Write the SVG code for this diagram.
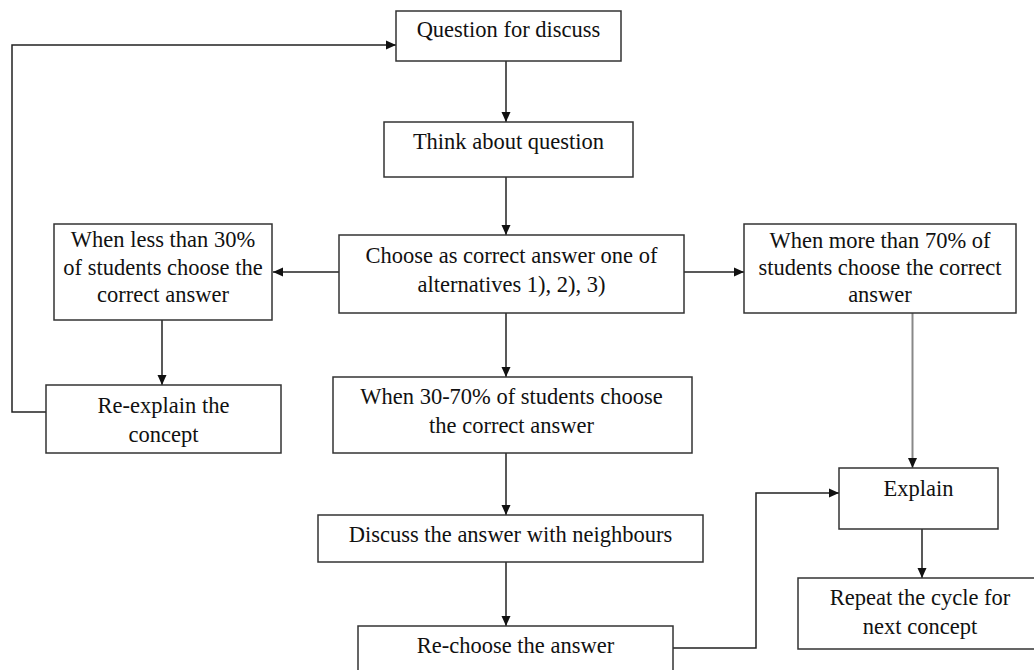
<svg xmlns="http://www.w3.org/2000/svg" width="1034" height="670" viewBox="0 0 1034 670">
<defs>
<marker id="ah" viewBox="0 0 10 10" refX="10" refY="5" markerWidth="10" markerHeight="10" markerUnits="userSpaceOnUse" orient="auto">
<path d="M0,0.5 L10,5 L0,9.5 Z" fill="#111"/>
</marker>
<style>
.box{fill:#fff;stroke:#333;stroke-width:1.5}
.t{font-family:'Liberation Serif','Times New Roman',Tinos,'DejaVu Serif',serif;font-size:22.5px;fill:#111;text-anchor:middle}
.c{fill:none;stroke:#222;stroke-width:1.5}
.g{fill:none;stroke:#888;stroke-width:2}
</style>
</defs>
<rect width="1034" height="670" fill="#fff"/>
<g id="connectors">
<path class="c" d="M506,61 V122" marker-end="url(#ah)"/>
<path class="c" d="M506,177 V235" marker-end="url(#ah)"/>
<path class="c" d="M339,272 H273" marker-end="url(#ah)"/>
<path class="c" d="M684,272 H744" marker-end="url(#ah)"/>
<path class="c" d="M162,320 V385" marker-end="url(#ah)"/>
<path class="c" d="M506,313 V377" marker-end="url(#ah)"/>
<path class="c" d="M506,453 V515" marker-end="url(#ah)"/>
<path class="c" d="M506,562 V626" marker-end="url(#ah)"/>
<path class="c" d="M46,412 H12 V45 H396" marker-end="url(#ah)"/>
<path class="g" d="M912.5,313 V468" marker-end="url(#ah)"/>
<path class="c" d="M922,529 V578" marker-end="url(#ah)"/>
<path class="c" d="M673,648 H756 V493 H839" marker-end="url(#ah)"/>
</g>
<g id="n1"><rect class="box" x="396" y="11" width="225" height="50"/><text class="t" font-family="Liberation Serif, serif" x="508.5" y="37">Question for discuss</text></g>
<g id="n2"><rect class="box" x="384" y="122" width="249" height="55"/><text class="t" x="508.5" y="149">Think about question</text></g>
<g id="n3"><rect class="box" x="339" y="235" width="345" height="78"/><text class="t" x="511.5" y="263">Choose as correct answer one of</text><text class="t" x="511.5" y="292">alternatives 1), 2), 3)</text></g>
<g id="n4"><rect class="box" x="54" y="224" width="218" height="96"/><text class="t" x="163" y="247">When less than 30%</text><text class="t" x="163" y="275">of students choose the</text><text class="t" x="163" y="302">correct answer</text></g>
<g id="n5"><rect class="box" x="744" y="224" width="272" height="89"/><text class="t" x="880" y="248">When more than 70% of</text><text class="t" x="880" y="275">students choose the correct</text><text class="t" x="880" y="302">answer</text></g>
<g id="n6"><rect class="box" x="46" y="385" width="235" height="68"/><text class="t" x="163.5" y="413">Re-explain the</text><text class="t" x="163.5" y="442">concept</text></g>
<g id="n7"><rect class="box" x="333" y="377" width="359" height="76"/><text class="t" x="511.5" y="404">When 30-70% of students choose</text><text class="t" x="511.5" y="433">the correct answer</text></g>
<g id="n8"><rect class="box" x="318" y="515" width="385" height="47"/><text class="t" x="510.5" y="542">Discuss the answer with neighbours</text></g>
<g id="n9"><rect class="box" x="358" y="626" width="315" height="60"/><text class="t" x="515.5" y="653">Re-choose the answer</text></g>
<g id="n10"><rect class="box" x="839" y="468" width="159" height="61"/><text class="t" x="918.5" y="496">Explain</text></g>
<g id="n11"><rect class="box" x="798" y="578" width="245" height="71"/><text class="t" x="920" y="605">Repeat the cycle for</text><text class="t" x="920" y="634">next concept</text></g>
</svg>
